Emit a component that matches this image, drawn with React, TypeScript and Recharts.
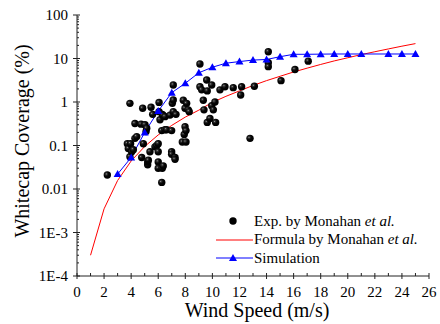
import { ComposedChart, Line, Scatter, XAxis, YAxis, Legend, Label } from "recharts";

// Exp. by Monahan et al. (wind speed m/s, whitecap coverage %)
const expWind = [
  2.24, 3.72, 3.79, 3.91, 3.91, 3.96, 4.04, 4.16, 4.28, 4.28,
  4.41, 4.73, 4.78, 4.85, 4.9, 5.02, 5.1, 5.15, 5.22, 5.22,
  5.27, 5.39, 5.47, 5.59, 5.76, 5.89, 6.0, 6.0, 6.0, 6.0,
  6.06, 6.06, 6.13, 6.26, 6.26, 6.3, 6.3, 6.37, 6.37, 6.5,
  6.5, 6.62, 6.87, 6.99, 6.99, 6.99, 7.04, 7.11, 7.11, 7.11,
  7.24, 7.24, 7.31, 7.78, 7.85, 7.92, 7.98, 7.98, 8.05, 8.05,
  8.1, 8.22, 8.29, 9.08, 9.08, 9.21, 9.33, 9.38, 9.58, 9.62,
  9.62, 9.82, 9.95, 9.95, 10.07, 10.19, 10.24, 10.56, 10.93, 11.54,
  12.09, 12.16, 12.78, 13.1, 14.13, 14.13, 14.13, 15.07, 16.1, 17.08,
];
const expCover = [
  0.021, 0.11, 0.085, 0.055, 0.93, 0.11, 0.072, 0.08, 0.32, 0.146,
  0.16, 0.31, 0.053, 0.72, 0.11, 0.3, 0.21, 0.25, 0.036, 0.042,
  0.046, 0.072, 0.76, 0.52, 0.093, 0.1, 0.11, 0.072, 0.042, 0.03,
  0.98, 0.6, 0.39, 0.22, 0.0142, 0.52, 0.03, 0.49, 0.034, 0.46,
  0.23, 0.23, 0.5, 0.22, 0.072, 0.063, 0.93, 1.11, 2.46, 0.6,
  0.053, 0.048, 0.52, 0.12, 1.1, 0.18, 0.72, 0.27, 0.22, 0.12,
  0.93, 0.66, 0.6, 7.5, 2.24, 1.9, 1.1, 0.66, 3.2, 1.8,
  0.34, 0.42, 2.46, 0.82, 0.66, 1.0, 0.34, 1.9, 2.24, 2.14,
  1.45, 2.24, 0.146, 2.3, 14.3, 8.0, 6.5, 3.1, 5.6, 8.7,
];

// Formula by Monahan et al., read at whole wind speeds
const formulaWind = [1, 2, 3, 4, 5, 6, 7, 8, 9, 10, 11, 12, 13, 14, 15, 16, 17, 18, 19, 20, 21, 22, 23, 24, 25];
const formulaCover = [
  0.0003, 0.0035, 0.0157, 0.044, 0.095, 0.175, 0.29, 0.45, 0.65, 0.98,
  1.35, 1.8, 2.4, 3.1, 3.9, 4.9, 6.0, 7.3, 8.8, 10.4, 12.3, 14.3, 16.6, 19.2, 22,
];

// Simulation
const simWind = [3, 4, 5, 6, 7, 8, 9, 10, 11, 12, 13, 14, 15, 16, 17, 18, 19, 20, 21, 23, 24, 25];
const simCover = [
  0.022, 0.053, 0.2, 0.62, 1.64, 2.7, 4.7, 6.3, 7.8, 8.5, 9.2,
  9.5, 11, 12.5, 12.5, 12.6, 12.7, 12.7, 12.7, 12.7, 12.7, 12.7,
];

const xTicks = [0, 1, 2, 3, 4, 5, 6, 7, 8, 9, 10, 11, 12, 13, 14, 15, 16, 17, 18, 19, 20, 21, 22, 23, 24, 25, 26];
const yMajor = [0.0001, 0.001, 0.01, 0.1, 1, 10, 100];
const yLabels = ["1E-4", "1E-3", "0.01", "0.1", "1", "10", "100"];

const yTicks = yMajor.flatMap((v) =>
  v === 100 ? [v] : [1, 2, 3, 4, 5, 6, 7, 8, 9].map((m) => +(v * m).toPrecision(3))
);

const expData = expWind.map((x, i) => ({ x, y: expCover[i] }));
const formulaData = formulaWind.map((x, i) => ({ x, y: formulaCover[i] }));
const simData = simWind.map((x, i) => ({ x, y: simCover[i] }));

const FONT = "Liberation Serif, Tinos, Times, DejaVu Serif, serif";
const AX = "#222";

const isMajorY = (v: number) => yMajor.some((m) => Math.abs(m - v) / m < 1e-6);

const BottomTick = ({ x, y, payload }: any) => {
  const v = payload.value;
  const major = v % 2 === 0;
  return (
    <g>
      <line x1={x} x2={x} y1={major ? y + 3 : y} y2={y - 3} stroke={AX} />
      {major && (
        <text x={x} y={y + 21} textAnchor="middle" fontSize={15} style={{ fontFamily: FONT }} fill="#000">
          {v}
        </text>
      )}
    </g>
  );
};

const TopTick = ({ x, y, payload }: any) => {
  const major = payload.value % 2 === 0;
  return <line x1={x} x2={x} y1={y} y2={y + (major ? 3 : 2)} stroke={AX} />;
};

const LeftTick = ({ x, y, payload }: any) => {
  const v = payload.value;
  const idx = yMajor.findIndex((m) => Math.abs(m - v) / m < 1e-6);
  const major = idx >= 0;
  return (
    <g>
      <line x1={major ? x - 4 : x} x2={x + (major ? 3 : 2)} y1={y} y2={y} stroke={AX} />
      {major && (
        <text x={x - 9} y={y + 5} textAnchor="end" fontSize={15} style={{ fontFamily: FONT }} fill="#000">
          {yLabels[idx]}
        </text>
      )}
    </g>
  );
};

const RightTick = ({ x, y, payload }: any) => {
  const major = isMajorY(payload.value);
  return <line x1={x - (major ? 3 : 2)} x2={x + 2} y1={y} y2={y} stroke={AX} />;
};

const Ball = ({ cx, cy }: any) => (
  <g>
    <defs>
      <radialGradient id="ball" cx="36%" cy="36%" r="64%">
        <stop offset="0%" stopColor="#a8a8a8" />
        <stop offset="18%" stopColor="#333" />
        <stop offset="50%" stopColor="#050505" />
        <stop offset="100%" stopColor="#000" />
      </radialGradient>
    </defs>
    <circle cx={cx} cy={cy} r={3.7} fill="url(#ball)" />
  </g>
);

const Tri = ({ cx, cy, index }: any) => (
  <polygon
    key={index}
    points={`${cx - 4},${cy + 3} ${cx + 4},${cy + 3} ${cx},${cy - 4}`}
    fill="#0000ff"
  />
);

const LegendBox = () => {
  const row = { display: "flex", alignItems: "center", height: 18.5 } as const;
  const txt = { fontFamily: FONT, fontSize: 15, color: "#000", whiteSpace: "nowrap" } as const;
  return (
    <div>
      <div style={row}>
        <svg width={38} height={18}>
          <circle cx={17} cy={9} r={3.7} fill="#000" />
        </svg>
        <span style={txt}>
          Exp. by Monahan <i>et al.</i>
        </span>
      </div>
      <div style={row}>
        <svg width={38} height={18}>
          <line x1={0} x2={37} y1={9} y2={9} stroke="#ff0000" />
        </svg>
        <span style={txt}>
          Formula by Monahan <i>et al.</i>
        </span>
      </div>
      <div style={row}>
        <svg width={38} height={18}>
          <line x1={0} x2={37} y1={9} y2={9} stroke="#0000ff" />
          <polygon points="13,12 21,12 17,5" fill="#0000ff" />
        </svg>
        <span style={txt}>Simulation</span>
      </div>
    </div>
  );
};

export default function App() {
  return (
    <div style={{ position: "absolute", left: 0, top: 0, width: 440, height: 324, background: "#fff" }}>
      <ComposedChart width={440} height={324} margin={{ top: 15, right: 11, left: 0, bottom: 0 }}>
        <XAxis
          dataKey="x"
          type="number"
          domain={[0, 26]}
          ticks={xTicks}
          interval={0}
          height={48}
          tickSize={0}
          tickMargin={0}
          tickLine={false}
          tick={<BottomTick />}
          stroke={AX}
          allowDataOverflow
        >
          <Label
            content={() => (
              <text x={257} y={317} textAnchor="middle" fontSize={20} style={{ fontFamily: FONT }} fill="#000">
                Wind Speed (m/s)
              </text>
            )}
          />
        </XAxis>
        <XAxis
          xAxisId="top"
          orientation="top"
          type="number"
          domain={[0, 26]}
          ticks={xTicks}
          interval={0}
          height={0}
          tickSize={0}
          tickMargin={0}
          tickLine={false}
          tick={<TopTick />}
          stroke={AX}
          allowDataOverflow
        />
        <YAxis
          dataKey="y"
          type="number"
          scale="log"
          domain={[0.0001, 100]}
          ticks={yTicks}
          interval={0}
          width={77}
          tickSize={0}
          tickMargin={0}
          tickLine={false}
          tick={<LeftTick />}
          stroke={AX}
          allowDataOverflow
        >
          <Label
            content={() => (
              <text
                x={29}
                y={141}
                transform="rotate(-90 29 141)"
                textAnchor="middle"
                fontSize={20}
                style={{ fontFamily: FONT }}
                fill="#000"
              >
                Whitecap Coverage (%)
              </text>
            )}
          />
        </YAxis>
        <YAxis
          yAxisId="right"
          orientation="right"
          type="number"
          scale="log"
          domain={[0.0001, 100]}
          ticks={yTicks}
          interval={0}
          width={0}
          tickSize={0}
          tickMargin={0}
          tickLine={false}
          tick={<RightTick />}
          stroke={AX}
          allowDataOverflow
        />
        <Line
          data={formulaData}
          dataKey="y"
          type="linear"
          stroke="#ff0000"
          strokeWidth={1}
          dot={false}
          isAnimationActive={false}
          name="Formula"
        />
        <Scatter data={expData} dataKey="y" shape={<Ball />} isAnimationActive={false} name="Exp" />
        <Line
          data={simData}
          dataKey="y"
          type="linear"
          stroke="#0000ff"
          strokeWidth={1}
          dot={<Tri />}
          isAnimationActive={false}
          name="Simulation"
        />
        <Legend
          layout="vertical"
          align="center"
          verticalAlign="middle"
          content={() => <LegendBox />}
          wrapperStyle={{ left: 216, top: 212, width: 220, height: 60 }}
        />
      </ComposedChart>
    </div>
  );
}
